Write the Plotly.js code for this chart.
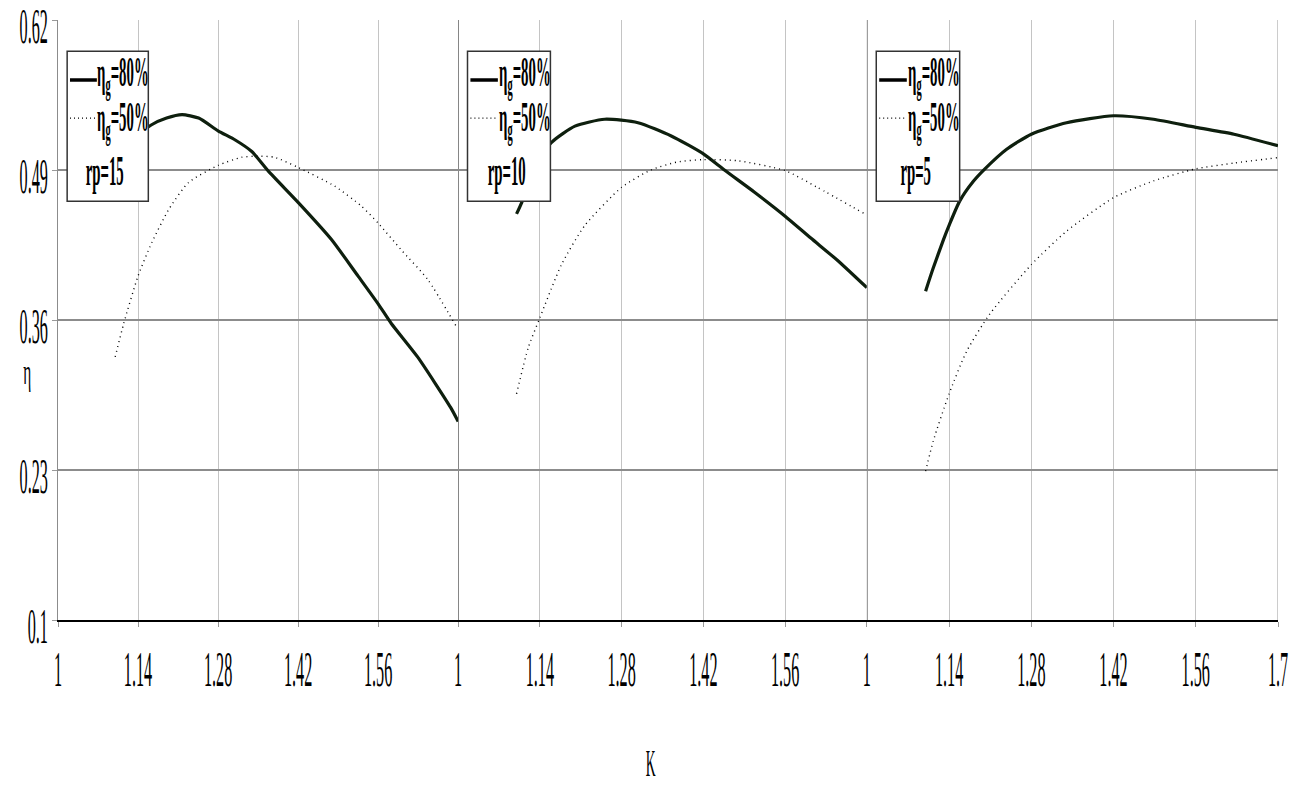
<!DOCTYPE html>
<html>
<head>
<meta charset="utf-8">
<script src="https://cdn.plot.ly/plotly-3.0.1.min.js"></script>
<style>
html,body{margin:0;padding:0;background:#fff;}
#chart{width:1301px;height:787px;}
</style>
</head>
<body>
<div id="chart"></div>
<script>
// ---------- data ----------
const xTickVals = [1, 1.14, 1.28, 1.42, 1.56];
const xTickText = ["1", "1.14", "1.28", "1.42", "1.56"];
const xTickVals3 = [1, 1.14, 1.28, 1.42, 1.56, 1.7];
const xTickText3 = ["1", "1.14", "1.28", "1.42", "1.56", "1.7"];
const yTickVals = [0.1, 0.23, 0.36, 0.49, 0.62];
const yTickText = ["0.1", "0.23", "0.36", "0.49", "0.62"];
const panelLabels = ["rp=15", "rp=10", "rp=5"];
const seriesNames = ["η<sub>g</sub>=80%", "η<sub>g</sub>=50%"];

// panel 1 (rp=15)
const p1_80_K   = [1.14, 1.163, 1.19, 1.217, 1.246, 1.28, 1.31, 1.339, 1.368, 1.42, 1.478, 1.525, 1.56, 1.583, 1.629, 1.687, 1.7];
const p1_80_eta = [0.520, 0.529, 0.535, 0.538, 0.535, 0.524, 0.516, 0.506, 0.489, 0.462, 0.430, 0.398, 0.374, 0.357, 0.328, 0.284, 0.272];
const p1_50_K   = [1.10, 1.115, 1.14, 1.164, 1.194, 1.228, 1.28, 1.321, 1.35, 1.379, 1.421, 1.484, 1.53, 1.56, 1.60, 1.647, 1.696];
const p1_50_eta = [0.328, 0.357, 0.398, 0.427, 0.456, 0.479, 0.494, 0.501, 0.502, 0.501, 0.492, 0.476, 0.459, 0.444, 0.421, 0.395, 0.355];
// panel 2 (rp=10)
const p2_80_K   = [1.10, 1.109, 1.13, 1.16, 1.2, 1.251, 1.308, 1.365, 1.42, 1.456, 1.507, 1.56, 1.604, 1.649, 1.70];
const p2_80_eta = [0.452, 0.462, 0.492, 0.514, 0.528, 0.534, 0.531, 0.5195, 0.504, 0.490, 0.471, 0.450, 0.431, 0.412, 0.388];
const p2_50_K   = [1.10, 1.12, 1.14, 1.177, 1.217, 1.28, 1.33, 1.376, 1.42, 1.479, 1.56, 1.615, 1.70];
const p2_50_eta = [0.296, 0.336, 0.362, 0.408, 0.442, 0.475, 0.490, 0.497, 0.499, 0.498, 0.4895, 0.475, 0.451];
// panel 3 (rp=5)
const p3_80_K   = [1.10, 1.113, 1.13, 1.14, 1.158, 1.181, 1.201, 1.238, 1.28, 1.34, 1.42, 1.488, 1.56, 1.625, 1.70];
const p3_80_eta = [0.385, 0.405, 0.429, 0.442, 0.463, 0.480, 0.491, 0.508, 0.521, 0.531, 0.537, 0.534, 0.527, 0.521, 0.511];
const p3_50_K   = [1.10, 1.113, 1.14, 1.17, 1.209, 1.28, 1.34, 1.42, 1.488, 1.56, 1.625, 1.70];
const p3_50_eta = [0.229, 0.255, 0.296, 0.333, 0.365, 0.408, 0.437, 0.466, 0.4805, 0.491, 0.496, 0.5007];

// ---------- styles ----------
const FONT = "Liberation Serif, Times New Roman, serif";
const solidLine = {color: "#0e1f0e", width: 3.2, shape: "spline", smoothing: 0.6};
const dotLine = {color: "#000", width: 1.4, dash: "1px,4px", shape: "spline", smoothing: 0.6};

const panels = [
  {xa: "x",  K80: p1_80_K, e80: p1_80_eta, K50: p1_50_K, e50: p1_50_eta},
  {xa: "x2", K80: p2_80_K, e80: p2_80_eta, K50: p2_50_K, e50: p2_50_eta},
  {xa: "x3", K80: p3_80_K, e80: p3_80_eta, K50: p3_50_K, e50: p3_50_eta}
];

const traces = [];
const shapes = [];
const annotations = [];
const legFont = {family: FONT, size: 20, color: "#000", weight: 700};
panels.forEach((p, i) => {
  traces.push({x: p.K80, y: p.e80, xaxis: p.xa, yaxis: "y", type: "scatter", mode: "lines",
               line: solidLine, name: seriesNames[0] + " " + panelLabels[i], showlegend: false, hoverinfo: "skip"});
  traces.push({x: p.K50, y: p.e50, xaxis: p.xa, yaxis: "y", type: "scatter", mode: "lines",
               line: dotLine, name: seriesNames[1] + " " + panelLabels[i], showlegend: false, hoverinfo: "skip"});
  // legend box
  shapes.push({type: "rect", xref: p.xa, yref: "y", x0: 1.016, x1: 1.158, y0: 0.463, y1: 0.593,
               fillcolor: "#fff", line: {color: "#333", width: 1.5}, layer: "above"});
  shapes.push({type: "line", xref: p.xa, yref: "y", x0: 1.021, x1: 1.068, y0: 0.568, y1: 0.568,
               line: {color: "#000", width: 3.5}, layer: "above"});
  shapes.push({type: "line", xref: p.xa, yref: "y", x0: 1.021, x1: 1.068, y0: 0.535, y1: 0.535,
               line: {color: "#000", width: 1.4, dash: "1px,3px"}, layer: "above"});
  annotations.push({xref: p.xa, yref: "y", x: 1.1145, y: 0.573, text: seriesNames[0], showarrow: false,
                    xanchor: "center", yanchor: "middle", font: legFont});
  annotations.push({xref: p.xa, yref: "y", x: 1.1145, y: 0.534, text: seriesNames[1], showarrow: false,
                    xanchor: "center", yanchor: "middle", font: legFont});
  annotations.push({xref: p.xa, yref: "y", x: 1.082, y: 0.489, text: panelLabels[i], showarrow: false,
                    xanchor: "center", yanchor: "middle", font: legFont});
});
// panel boundaries
shapes.push({type: "line", xref: "x2", yref: "y", x0: 1, x1: 1, y0: 0.1, y1: 0.62, line: {color: "#6a6a6a", width: 1.6}, layer: "below"});
shapes.push({type: "line", xref: "x3", yref: "y", x0: 1, x1: 1, y0: 0.1, y1: 0.62, line: {color: "#6a6a6a", width: 1.6}, layer: "below"});
shapes.push({type: "line", xref: "x3", yref: "y", x0: 1.7, x1: 1.7, y0: 0.1, y1: 0.62, line: {color: "#999", width: 1}, layer: "below"});

const tickFont = {family: FONT, size: 18, color: "#000"};
function xax(domain, vals, text, extra) {
  return Object.assign({
    domain: domain, range: [1, 1.7], anchor: "y", tickmode: "array", tickvals: vals, ticktext: text,
    showgrid: true, gridcolor: "#c4c4c4", gridwidth: 1, zeroline: false,
    showline: true, linecolor: "#000", linewidth: 2.2,
    ticks: "outside", ticklen: 5, tickcolor: "#999", tickwidth: 1,
    tickfont: tickFont, ticklabelstandoff: 26, automargin: false, fixedrange: true
  }, extra || {});
}

const layout = {
  width: 1301, height: 787,
  margin: {l: 58, r: 23, t: 20, b: 167},
  paper_bgcolor: "#fff", plot_bgcolor: "#fff",
  showlegend: false,
  xaxis: xax([0, 0.328], xTickVals, xTickText),
  xaxis2: xax([0.328, 0.663], xTickVals, xTickText, {title: {text: "K", font: {family: FONT, size: 17, color: "#000"}, standoff: 80}}),
  xaxis3: xax([0.663, 1], xTickVals3, xTickText3),
  yaxis: {
    domain: [0, 1], range: [0.1, 0.62], tickmode: "array", tickvals: yTickVals, ticktext: yTickText,
    showgrid: true, gridcolor: "#8c8c8c", gridwidth: 2, zeroline: false,
    showline: true, linecolor: "#8c8c8c", linewidth: 1.5,
    ticks: "outside", ticklen: 5, tickcolor: "#999", tickfont: tickFont, automargin: false, fixedrange: true,
    title: {text: "η", font: {family: FONT, size: 18, color: "#000"}, standoff: 8}
  },
  shapes: shapes,
  annotations: annotations
};

// narrow, tall glyphs like the original figure
function squeeze(el, sx, sy, mode, dx, dy) {
  const b = el.getBBox();
  const cx = mode === "end" ? b.x + b.width : b.x + b.width / 2;
  const cy = b.y + b.height / 2;
  const ex = el.getAttribute("transform") || "";
  el.setAttribute("transform", ex + " translate(" + (cx + (dx || 0)) + "," + (cy + (dy || 0)) + ") scale(" + sx + "," + sy + ") translate(" + (-cx) + "," + (-cy) + ")");
}
// upright (unrotated) axis title, centred at (px, py)
function placeUpright(el, sx, sy, px, py) {
  const b = el.getBBox();
  const cx = b.x + b.width / 2, cy = b.y + b.height / 2;
  el.setAttribute("transform", "translate(" + px + "," + py + ") scale(" + sx + "," + sy + ") translate(" + (-cx) + "," + (-cy) + ")");
}

Plotly.newPlot("chart", traces, layout, {staticPlot: true, displayModeBar: false}).then(function (gd) {
  gd.querySelectorAll(".xaxislayer-above text").forEach(t => squeeze(t, 0.9, 2.8, "mid", 0, 0));
  gd.querySelectorAll(".yaxislayer-above text").forEach(t => squeeze(t, 0.9, 2.8, "end", 0, 6));
  gd.querySelectorAll("text.annotation-text").forEach(t => squeeze(t, 0.74, 2.15, "mid", 0, 0));
  gd.querySelectorAll(".g-x2title text").forEach(t => squeeze(t, 0.8, 2.2, "mid", -12, 0));
  gd.querySelectorAll(".g-ytitle text").forEach(t => placeUpright(t, 0.85, 2.0, 14, 372));
});
</script>
</body>
</html>
